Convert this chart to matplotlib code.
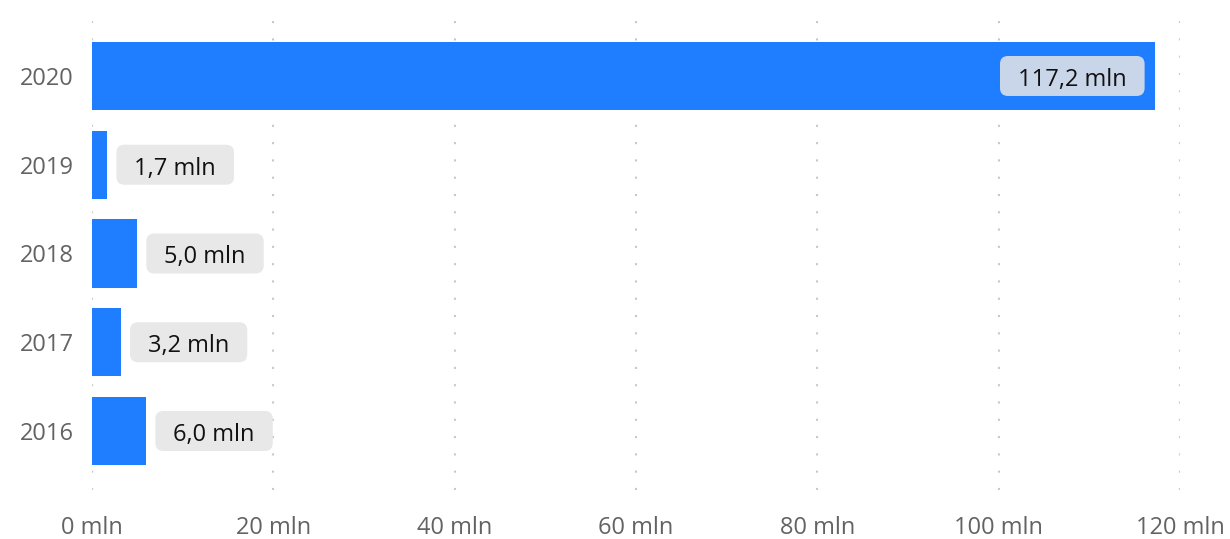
import matplotlib
matplotlib.use("Agg")
import matplotlib.pyplot as plt
from matplotlib.ticker import FuncFormatter
from matplotlib.patches import FancyBboxPatch
from matplotlib.transforms import IdentityTransform

years = ["2020", "2019", "2018", "2017", "2016"]
values = [117.2, 1.7, 5.0, 3.2, 6.0]
labels = ["117,2 mln", "1,7 mln", "5,0 mln", "3,2 mln", "6,0 mln"]
xticks = [0, 20, 40, 60, 80, 100, 120]

plt.rcParams['font.family'] = ['Open Sans', 'DejaVu Sans']

DPI = 100
fig = plt.figure(figsize=(12.3, 5.39), dpi=DPI)
ax = fig.add_axes([92/1230, 49/539, (1180-92)/1230, (490-8)/539])

pos = list(range(len(years)))
ax.barh(pos, values, height=0.77, color="#1f7dff", zorder=2)
ax.set_ylim(4.665, -0.766)
ax.set_xlim(0, 120)
ax.set_yticks(pos)
ax.set_yticklabels(years)
ax.set_xticks(xticks)
ax.xaxis.set_major_formatter(FuncFormatter(lambda v, p: f"{int(v)} mln"))
ax.tick_params(axis='both', length=0, labelsize=17, labelcolor="#636363")
ax.tick_params(axis='y', pad=13)
ax.tick_params(axis='x', pad=19)
for s in ax.spines.values():
    s.set_visible(False)
ax.xaxis.grid(True, color="#c8c8c8", linewidth=1.5, linestyle=(0, (1, 7.3)), zorder=0)

px = 72.0 / DPI  # points per pixel
texts = []
for i, (v, lab) in enumerate(zip(values, labels)):
    if v > 60:
        t = ax.annotate(lab, (v, i), xytext=(-28 * px, -4 * px), textcoords="offset points",
                        ha="right", va="center", fontsize=17, color="#111111", zorder=4)
        texts.append((t, i, "#c9d6ea"))
    else:
        t = ax.annotate(lab, (v, i), xytext=(27 * px, -4 * px), textcoords="offset points",
                        ha="left", va="center", fontsize=17, color="#111111", zorder=4)
        texts.append((t, i, "#e8e8e8"))

fig.canvas.draw()
r = fig.canvas.get_renderer()
for t, i, fc in texts:
    bb = t.get_window_extent(r)
    cy = ax.transData.transform((0, i))[1]
    w = bb.width + 36
    h = 40
    patch = FancyBboxPatch((bb.x0 - 18, cy - h / 2), w, h,
                           boxstyle="round,pad=0,rounding_size=8",
                           transform=IdentityTransform(), fc=fc, ec="none", zorder=3)
    ax.add_artist(patch)
    patch.set_clip_on(False)

fig.savefig("out.png", dpi=DPI)
